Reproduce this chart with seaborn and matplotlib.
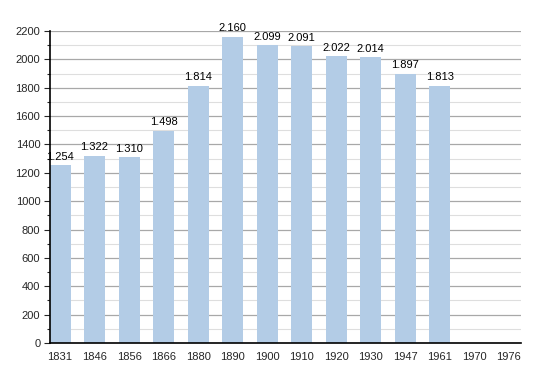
import matplotlib
matplotlib.use("Agg")
import matplotlib.pyplot as plt
import seaborn as sns
import numpy as np
import pandas as pd
from matplotlib.ticker import MultipleLocator

years = ["1831", "1846", "1856", "1866", "1880", "1890", "1900", "1910", "1920", "1930", "1947", "1961", "1970", "1976"]
population = [1254, 1322, 1310, 1498, 1814, 2160, 2099, 2091, 2022, 2014, 1897, 1813, np.nan, np.nan]
labels = ["1.254", "1.322", "1.310", "1.498", "1.814", "2.160", "2.099", "2.091", "2.022", "2.014", "1.897", "1.813", "", ""]

df = pd.DataFrame({"year": years, "pop": population})

sns.set_style("white")
plt.rcParams['font.family'] = ['Liberation Sans', 'DejaVu Sans']

fig = plt.figure(figsize=(5.5, 3.73), dpi=100)
ax = fig.add_axes([0.0909, 0.0804, 0.856, 0.8365])

sns.barplot(data=df, x="year", y="pop", order=years, color="#b3cce6", saturation=1,
            width=0.61, ax=ax, zorder=3, linewidth=0, edgecolor="none")

ax.set_ylim(0, 2200)
ax.set_xlim(-0.29, len(years) - 1 + 0.35)
ax.yaxis.set_major_locator(MultipleLocator(200))
ax.yaxis.set_minor_locator(MultipleLocator(100))
ax.grid(which="major", axis="y", color="#a8a8a8", linewidth=0.9, zorder=0)
ax.grid(which="minor", axis="y", color="#dedede", linewidth=0.8, zorder=0)
ax.set_axisbelow(True)

for i, (v, t) in enumerate(zip(population, labels)):
    if t:
        ax.text(i, v + 25, t, ha="center", va="bottom", fontsize=8, color="black")

for s in ["top", "right"]:
    ax.spines[s].set_visible(False)
ax.spines["left"].set_color("black")
ax.spines["bottom"].set_color("black")
ax.spines["left"].set_linewidth(1.2)
ax.spines["bottom"].set_linewidth(1.2)
ax.spines["left"].set_zorder(5)
ax.spines["bottom"].set_zorder(5)

ax.tick_params(axis="y", which="major", left=True, length=4, width=0.8, labelsize=8, pad=3)
ax.tick_params(axis="y", which="minor", left=True, length=2, width=0.8)
ax.tick_params(axis="x", bottom=False, labelsize=8, pad=3)
ax.set_xlabel("")
ax.set_ylabel("")

fig.savefig("out.png", dpi=100)
